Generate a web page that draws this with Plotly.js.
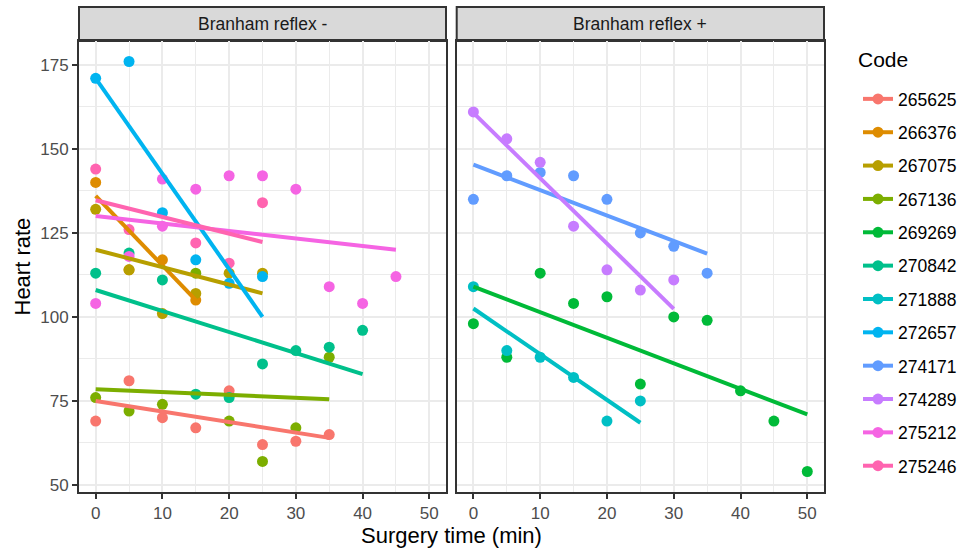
<!DOCTYPE html>
<html>
<head>
<meta charset="utf-8">
<script src="https://cdn.plot.ly/plotly-3.0.1.min.js"></script>
<style>
  html, body { margin: 0; padding: 0; background: #fff; }
  #chart { width: 966px; height: 548px; }
</style>
</head>
<body>
<div id="chart"></div>
<script>
// ---- data ----
const codes = ['265625','266376','267075','267136','269269','270842','271888','272657','274171','274289','275212','275246'];
const reflex = ['-','-','-','-','+','-','+','-','+','+','-','-'];
const surgeryTime = [
  [0,5,10,15,20,25,30,35],
  [0,5,10,15],
  [0,5,10,15,20,25],
  [0,5,10,15,20,25,30,35],
  [0,5,10,15,20,25,30,35,40,45,50],
  [0,5,10,15,20,25,30,35,40],
  [0,5,10,15,20,25],
  [0,5,10,15,20,25],
  [0,5,10,15,20,25,30,35],
  [0,5,10,15,20,25,30],
  [0,5,10,10,15,20,25,30,35,40,45],
  [0,5,15,20,25]
];
const heartRate = [
  [69,81,70,67,78,62,63,65],
  [140,114,117,105],
  [132,114,101,107,113,113],
  [76,72,74,113,69,57,67,88],
  [98,88,113,104,106,80,100,99,78,69,54],
  [113,119,111,77,76,86,90,91,96],
  [109,90,88,82,69,75],
  [171,176,131,117,110,112],
  [135,142,143,142,135,125,121,113],
  [161,153,146,127,114,108,111],
  [104,118,141,127,138,142,142,138,109,104,112],
  [144,126,122,116,134]
];
// fitted (lm) line values at the first and last time of each code
const fitStart = [75.0,136,120,78.5,109,108,102.5,171,145.3,160.7,130,134.7];
const fitEnd   = [64.0,105,107,75.5,71,83,68.5,100,118.8,102.4,120,122.3];
const panelLabels = ['Branham reflex -','Branham reflex +'];
const xTickVals = [0,10,20,30,40,50];
const yTickVals = [50,75,100,125,150,175];

// ---- styles ----
const palette = ['#F8766D','#DE8C00','#B79F00','#7CAE00','#00BA38','#00C08B','#00BFC4','#00B4F0','#619CFF','#C77CFF','#F564E3','#FF64B0'];
const FONT = 'Liberation Sans, Arial, sans-serif';
const traces = [];

// points layer
codes.forEach((c,i) => {
  const right = reflex[i] === '+';
  traces.push({
    type:'scatter', mode:'markers', x: surgeryTime[i], y: heartRate[i],
    xaxis: right ? 'x2' : 'x', yaxis: right ? 'y2' : 'y',
    marker:{color: palette[i], size: 11, line:{width:0}},
    showlegend:false, hoverinfo:'skip'
  });
});
// smooth (lm) layer
codes.forEach((c,i) => {
  const right = reflex[i] === '+';
  const xs = surgeryTime[i];
  traces.push({
    type:'scatter', mode:'lines',
    x: [Math.min(...xs), Math.max(...xs)], y: [fitStart[i], fitEnd[i]],
    xaxis: right ? 'x2' : 'x', yaxis: right ? 'y2' : 'y',
    line:{color: palette[i], width: 4},
    showlegend:false, hoverinfo:'skip'
  });
});
// legend entries
codes.forEach((c,i) => {
  traces.push({
    type:'scatter', mode:'lines+markers', x:[null], y:[null],
    name: c, legendgroup: c,
    line:{color: palette[i], width: 4},
    marker:{color: palette[i], size: 11},
    showlegend:true
  });
});

const W = 745, H = 451;
const leftDom = [0, 367/W];
const rightDom = [(456.7-79)/W, 1];
const stripH = 34/H;

function xax(dom, anchor){
  return {
    domain: dom, anchor: anchor, range:[-2.5,52.5],
    tickmode:'array', tickvals: xTickVals,
    ticks:'outside', ticklen:5, tickwidth:2, tickcolor:'#333333',
    tickfont:{family:FONT, size:17, color:'#4D4D4D'},
    showgrid:true, gridcolor:'#EBEBEB', gridwidth:2,
    minor:{tickmode:'array', tickvals:[5,15,25,35,45], showgrid:true, gridcolor:'#EBEBEB', gridwidth:1, ticks:''},
    zeroline:false, showline:true, mirror:true, linecolor:'#333333', linewidth:2,
    fixedrange:true
  };
}
function yax(anchor, labels){
  return {
    domain:[0,1], anchor: anchor, range:[47.9,182.1],
    tickmode:'array', tickvals: yTickVals,
    ticks: labels ? 'outside' : '', ticklen:5, tickwidth:2, tickcolor:'#333333',
    showticklabels: labels,
    tickfont:{family:FONT, size:17, color:'#4D4D4D'},
    showgrid:true, gridcolor:'#EBEBEB', gridwidth:2,
    minor:{tickmode:'array', tickvals:[62.5,87.5,112.5,137.5,162.5], showgrid:true, gridcolor:'#EBEBEB', gridwidth:1, ticks:''},
    zeroline:false, showline:true, mirror:true, linecolor:'#333333', linewidth:2,
    fixedrange:true
  };
}

const layout = {
  width:966, height:548,
  margin:{l:79, r:142, t:41, b:56, pad:0, autoexpand:false},
  paper_bgcolor:'#ffffff', plot_bgcolor:'#ffffff',
  font:{family:FONT, color:'#000000'},
  xaxis: xax(leftDom,'y'),
  xaxis2: xax(rightDom,'y2'),
  yaxis: yax('x', true),
  yaxis2: Object.assign(yax('x2', false), {matches:'y'}),
  showlegend:true,
  legend:{
    xref:'container', yref:'container',
    x:858/966, xanchor:'left', y:(548-81)/548, yanchor:'top',
    maxheight:540,
    font:{family:FONT, size:17.5, color:'#000000'},
    traceorder:'grouped', tracegroupgap:7.6, itemwidth:30,
    bgcolor:'rgba(0,0,0,0)', borderwidth:0
  },
  shapes:[
    {type:'rect', xref:'paper', yref:'paper', x0:leftDom[0], x1:leftDom[1], y0:1, y1:1+stripH,
     fillcolor:'#D9D9D9', line:{color:'#333333', width:2}, layer:'below'},
    {type:'rect', xref:'paper', yref:'paper', x0:rightDom[0], x1:rightDom[1], y0:1, y1:1+stripH,
     fillcolor:'#D9D9D9', line:{color:'#333333', width:2}, layer:'below'}
  ],
  annotations:[
    {text:panelLabels[0], xref:'paper', yref:'paper', x:(leftDom[0]+leftDom[1])/2, y:1+stripH/2,
     xanchor:'center', yanchor:'middle', showarrow:false, font:{family:FONT, size:17.5, color:'#1A1A1A'}},
    {text:panelLabels[1], xref:'paper', yref:'paper', x:(rightDom[0]+rightDom[1])/2, y:1+stripH/2,
     xanchor:'center', yanchor:'middle', showarrow:false, font:{family:FONT, size:17.5, color:'#1A1A1A'}},
    {text:'Surgery time (min)', xref:'paper', yref:'paper', x:0.5, y:-(535-492)/H,
     xanchor:'center', yanchor:'middle', showarrow:false, font:{family:FONT, size:22, color:'#000000'}},
    {text:'Heart rate', xref:'paper', yref:'paper', x:-(79-22)/W, y:0.5, textangle:-90,
     xanchor:'center', yanchor:'middle', showarrow:false, font:{family:FONT, size:22, color:'#000000'}},
    {text:'Code', xref:'paper', yref:'paper', x:(856-79)/W, y:(492-60)/H,
     xanchor:'left', yanchor:'middle', showarrow:false, font:{family:FONT, size:21, color:'#000000'}}
  ]
};

Plotly.newPlot('chart', traces, layout, {displayModeBar:false, staticPlot:true});
</script>
</body>
</html>
